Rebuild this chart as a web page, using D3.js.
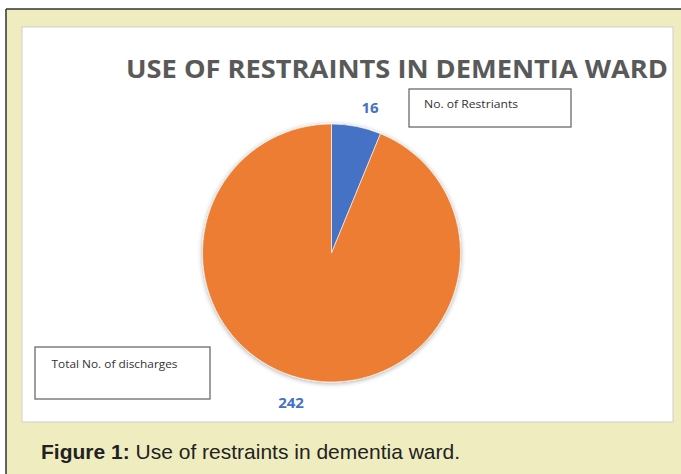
<!DOCTYPE html>
<html>
<head>
<meta charset="utf-8">
<script src="https://cdn.jsdelivr.net/npm/d3@7"></script>
<style>
  body { margin: 0; background: #fff; }
  svg { display: block; }
</style>
</head>
<body>
<svg id="chart" width="681" height="474"></svg>
<script>
// data
const categories = ['No. of Restriants', 'Total No. of discharges'];
const values = [16, 242];
const sliceColors = ['#4472c4', '#ed7d31'];

const width = 681, height = 474;
const svg = d3.select('#chart');

// outer figure frame
svg.append('rect').attr('x', 0).attr('y', 0).attr('width', width).attr('height', height).attr('fill', '#fff');
svg.append('rect')
    .attr('x', 6).attr('y', 9).attr('width', width - 6).attr('height', height - 9)
    .attr('fill', '#efedc0');
svg.append('line').attr('x1', 6).attr('x2', width).attr('y1', 9).attr('y2', 9)
    .attr('stroke', '#333').attr('stroke-width', 1.5);
svg.append('line').attr('x1', 6).attr('x2', 6).attr('y1', 9).attr('y2', height)
    .attr('stroke', '#333').attr('stroke-width', 1.5);

// white chart panel
svg.append('rect')
    .attr('x', 22).attr('y', 27).attr('width', 651).attr('height', 395)
    .attr('fill', '#fff').attr('stroke', '#cfcfc8').attr('stroke-width', 1);

svg.append('text')
    .attr('x', 126).attr('y', 77.5)
    .attr('font-family', 'Open Sans, sans-serif')
    .attr('font-weight', 'bold')
    .attr('font-size', 25)
    .attr('fill', '#595959')
    .attr('textLength', 542)
    .attr('lengthAdjust', 'spacingAndGlyphs')
    .text('USE OF RESTRAINTS IN DEMENTIA WARD');

// shadow for the pie
const defs = svg.append('defs');
const f = defs.append('filter').attr('id', 'shadow').attr('x', '-20%').attr('y', '-20%').attr('width', '140%').attr('height', '140%');
f.append('feGaussianBlur').attr('in', 'SourceAlpha').attr('stdDeviation', 2.5);
f.append('feOffset').attr('dx', 0).attr('dy', 1).attr('result', 'b');
f.append('feComponentTransfer').append('feFuncA').attr('type', 'linear').attr('slope', 0.35);
const m = f.append('feMerge');
m.append('feMergeNode');
m.append('feMergeNode').attr('in', 'SourceGraphic');

const cx = 331.5, cy = 253, r = 129;
const pie = d3.pie().sort(null).value(d => d)(values);
const arc = d3.arc().innerRadius(0).outerRadius(r);

const g = svg.append('g').attr('transform', `translate(${cx},${cy})`).attr('filter', 'url(#shadow)');
g.selectAll('path')
    .data(pie)
    .join('path')
    .attr('d', arc)
    .attr('fill', (d, i) => sliceColors[i])
    .attr('stroke', '#fff')
    .attr('stroke-width', 0.6);

// value labels
const labelPos = [[370, 113], [291, 408]];
svg.selectAll('text.val')
    .data(values)
    .join('text')
    .attr('class', 'val')
    .attr('x', (d, i) => labelPos[i][0])
    .attr('y', (d, i) => labelPos[i][1])
    .attr('text-anchor', 'middle')
    .attr('font-family', 'Open Sans, sans-serif')
    .attr('font-weight', 'bold')
    .attr('font-size', 15)
    .attr('fill', '#4472c4')
    .text(d => d);

// callout boxes
const boxes = [
    { x: 409, y: 89, w: 162, h: 38, tx: 424, ty: 108, tl: 94 },
    { x: 35, y: 347, w: 175, h: 52, tx: 51.5, ty: 368, tl: 126 },
];
boxes.forEach((b, i) => {
    svg.append('rect')
        .attr('x', b.x).attr('y', b.y).attr('width', b.w).attr('height', b.h)
        .attr('fill', '#fff').attr('stroke', '#6b6b6b').attr('stroke-width', 1.3);
    svg.append('text')
        .attr('x', b.tx).attr('y', b.ty)
        .attr('font-family', 'Open Sans, sans-serif')
        .attr('font-size', 11)
        .attr('fill', '#333')
        .attr('textLength', b.tl)
        .attr('lengthAdjust', 'spacingAndGlyphs')
        .text(categories[i]);
});

// caption
const cap = svg.append('text')
    .attr('x', 41).attr('y', 459)
    .attr('font-family', 'Liberation Sans, Arial, sans-serif')
    .attr('font-size', 21)
    .attr('fill', '#222');
cap.append('tspan').attr('font-weight', 'bold').text('Figure 1:');
cap.append('tspan').text(' Use of restraints in dementia ward.');
</script>
</body>
</html>
